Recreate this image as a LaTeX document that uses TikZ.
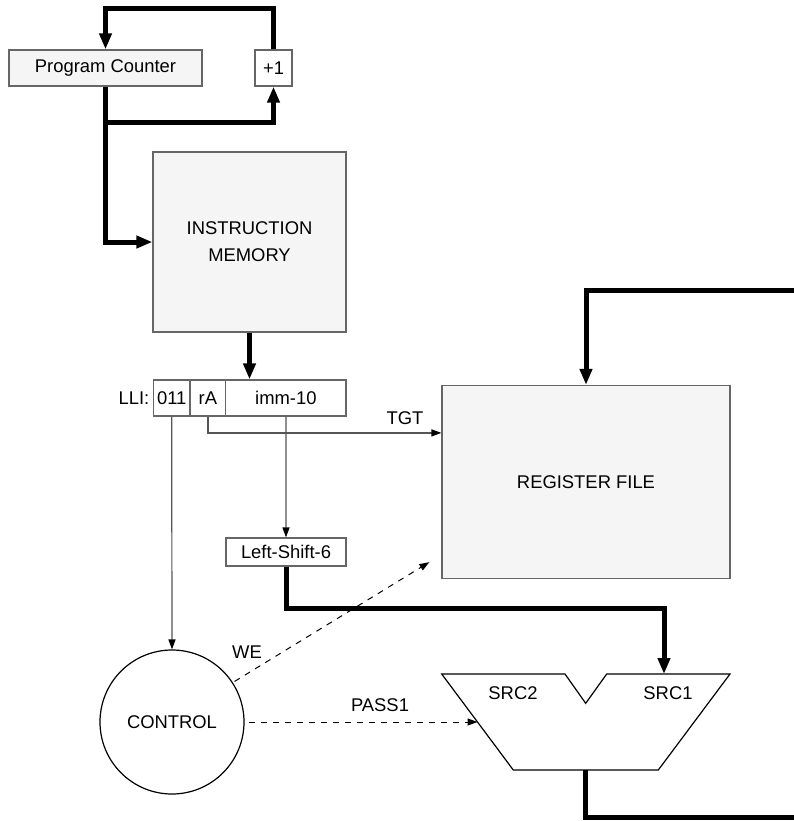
\documentclass[tikz,border=0pt]{standalone}
\usepackage{fontspec}
\setmainfont{Liberation Sans}
\usetikzlibrary{arrows.meta,calc}
\definecolor{boxfill}{HTML}{F5F5F5}
\definecolor{edge}{HTML}{666666}
\definecolor{wiregray}{HTML}{555555}
\begin{document}
\begin{tikzpicture}[x=0.5pt,y=-0.5pt,
    box/.style={draw=edge,semithick,inner sep=0pt,align=center},
    unit/.style={box,fill=boxfill},
    bus/.style={line width=2.5pt,-{Triangle[length=8pt,width=6pt]}},
    wire/.style={draw=wiregray,line width=0.6pt,-{Triangle[length=5pt,width=3.5pt,color=black]}},
    ctl/.style={dash pattern=on 3pt off 3pt,line width=0.5pt,-{Triangle[length=5pt,width=3.5pt]}}]
    \fontsize{9.2}{13.5}\selectfont
    \useasboundingbox (0,0) rectangle (794,821);

    \node[unit,minimum width=96.5pt,minimum height=18pt] (pc) at (105.5,68) {Program Counter};
    \node[box,minimum width=18.5pt,minimum height=18pt] (inc) at (273.5,68) {+1};
    \node[unit,minimum width=96.5pt,minimum height=90pt] (imem) at (249.5,242) {INSTRUCTION\\MEMORY};
    \node[box,minimum width=18.4pt,minimum height=18pt] (op) at (171.7,398) {011};
    \node[box,minimum width=17.9pt,minimum height=18pt] (ra) at (207.9,398) {rA};
    \node[box,minimum width=60.1pt,minimum height=18pt] (imm) at (285.9,398) {imm-10};
    \node[anchor=east,inner sep=1.5pt] (lli) at (op.west) {LLI:};
    \node[box,minimum width=60pt,minimum height=14pt] (lshift) at (286,552) {Left-Shift-6};
    \node[unit,minimum width=144pt,minimum height=96.5pt] (regfile) at (586,482) {REGISTER FILE};
    \node[circle,draw,semithick,minimum size=72pt,inner sep=0pt] (ctrl) at (172,722) {CONTROL};

    % ALU
    \draw[semithick] (441.7,674) coordinate (alutl) -- (565,674) -- (585.7,703.3) -- (606.7,674)
        -- (730,674) -- (658.3,770) -- (513.3,770) coordinate (alubl) -- cycle;
    \node (src2) at (513,693) {SRC2};
    \node (src1) at (668,693) {SRC1};
    \coordinate (src1in) at (664,674);
    \coordinate (aluout) at (585.7,770);

    % buses
    \coordinate (top) at (105.5,8);
    \coordinate (fork) at (105.5,122);
    \coordinate (wbin) at (794,290);
    \coordinate (wbout) at (794,817);
    \draw[bus] (inc.north) |- (top) -- (pc.north);
    \draw[bus] (pc.south) -- (fork) -| (inc.south);
    \draw[bus] (fork) |- (imem.west);
    \draw[bus] (imem.south) -- (imem.south |- imm.north);
    \draw[bus] (lshift.south) -- ++(0,42) -| (src1in);
    \draw[bus] (wbin) -| (regfile.north);
    \draw[bus,-] (aluout) |- (wbout);

    % signals
    \draw[wire] (op.south) -- (ctrl.north);
    \draw[wire] (ra.south) |- ($(regfile.north west)+(0,48)$);
    \draw[wire] (imm.south) -- (lshift.north);
    \node (tgt) at (405,418) {TGT};
    \draw[ctl,shorten <=1pt] (ctrl.33) -- ($(regfile.south west)+(-12,-17)$);
    \node (we) at (247,652) {WE};
    \draw[ctl,shorten <=2pt] (ctrl.east) -- ($(alutl)!0.5!(alubl)$);
    \node (pass) at (380,705) {PASS1};
\end{tikzpicture}
\end{document}
